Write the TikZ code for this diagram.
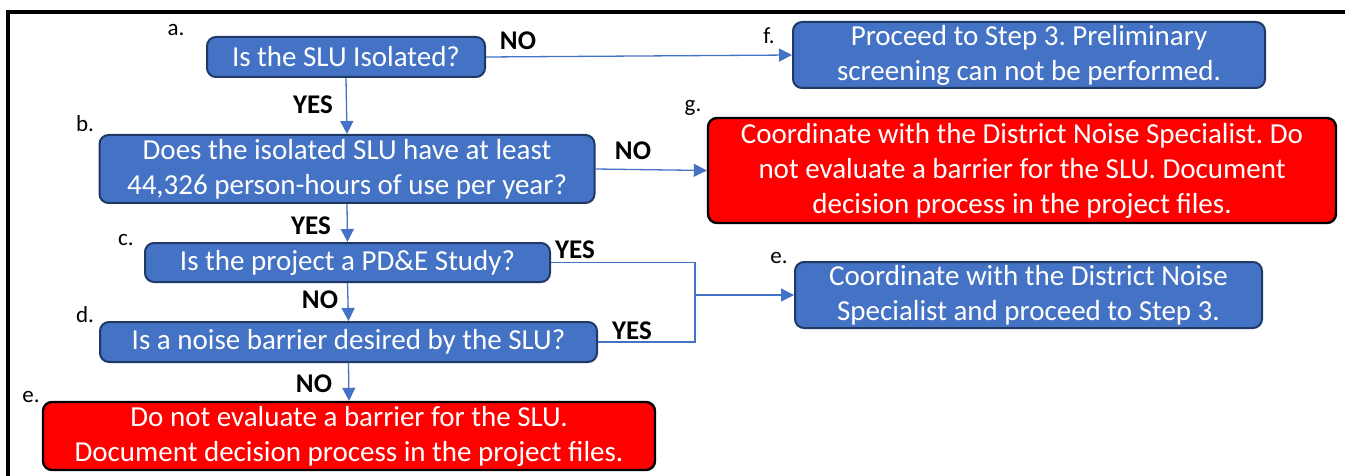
\documentclass[tikz,border=0pt]{standalone}
\usepackage{fontspec}
\setmainfont{Carlito}
\usetikzlibrary{arrows.meta}
\definecolor{boxblue}{HTML}{4472C4}
\definecolor{edgeblue}{HTML}{1F3864}
\definecolor{boxred}{HTML}{FF0000}
\frenchspacing

\begin{document}
\begin{tikzpicture}[x=1pt, y=-1pt,
	bluebox/.style={draw=edgeblue, line width=2pt, fill=boxblue, rounded corners=9pt,
		text=white, align=center, inner sep=0pt, font=\fontsize{29}{35}\selectfont},
	redbox/.style={bluebox, draw=black, line width=2.4pt, fill=boxred},
	tag/.style={font=\fontsize{23}{26}\selectfont},
	answer/.style={font=\fontsize{27}{30}\selectfont\bfseries},
	link/.style={draw=boxblue, line width=1.3pt},
	arrow/.style={link, -{Triangle[length=13pt, width=13pt]}}]
	\useasboundingbox (0,0) rectangle (1345,476);

	% Frame on the top and left side
	\draw[line width=4pt] (7.5,476) -- (7.5,12) -- (1345,12);

	% Question boxes on the left
	\node[bluebox, minimum width=278pt, minimum height=40pt] (a) at (346,57) {Is the SLU Isolated?};
	\node[bluebox, minimum width=495pt, minimum height=68pt] (b) at (347,169) {Does the isolated SLU have at least\\44,326 person-hours of use per year?};
	\node[bluebox, minimum width=405pt, minimum height=39pt] (c) at (347.5,262.5) {Is the project a PD\&E Study?};
	\node[bluebox, minimum width=497pt, minimum height=40pt] (d) at (348.5,342) {Is a noise barrier desired by the SLU?};
	\node[redbox, minimum width=612pt, minimum height=68pt] (e) at (349,436) {Do not evaluate a barrier for the SLU.\\Document decision process in the project files.};

	% Outcome boxes on the right
	\node[bluebox, minimum width=472pt, minimum height=66pt] (f) at (1029,55) {Proceed to Step 3. Preliminary\\screening can not be performed.};
	\node[redbox, minimum width=628pt, minimum height=105pt] (g) at (1022,170.5) {Coordinate with the District Noise Specialist. Do\\not evaluate a barrier for the SLU. Document\\decision process in the project files.};
	\node[bluebox, minimum width=467pt, minimum height=66pt] (e2) at (1028.5,295) {Coordinate with the District Noise\\Specialist and proceed to Step 3.};

	% Letters of the steps
	\node[tag] (ta) at (176,30) {a.};
	\node[tag] (tb) at (85,124) {b.};
	\node[tag] (tc) at (126,240) {c.};
	\node[tag] (td) at (85,315) {d.};
	\node[tag] (te) at (31,397) {e.};
	\node[tag] (tf) at (769,36) {f.};
	\node[tag] (tg) at (693,108) {g.};
	\node[tag] (te2) at (779,258) {e.};

	% Connectors
	\coordinate (J) at (695,295);
	\draw[arrow] (a.east) -- (f.west);
	\draw[arrow] (a.south) -- (b.north);
	\draw[arrow] (b.east) -- (g.west);
	\draw[arrow] (b.south) -- (c.north);
	\draw[arrow] (c.south) -- (d.north);
	\draw[arrow] (d.south) -- (e.north);
	\draw[link] (c.east) -| (J) |- (d.east);
	\draw[arrow] (J) -- (e2.west);

	% Answers on the connectors
	\node[answer] (nab) at (518,41) {NO};
	\node[answer] (yab) at (313,105) {YES};
	\node[answer] (nbg) at (633,151) {NO};
	\node[answer] (ybc) at (311,226) {YES};
	\node[answer] (yce) at (575,250) {YES};
	\node[answer] (ncd) at (320,300) {NO};
	\node[answer] (yde) at (632,331) {YES};
	\node[answer] (nde) at (314,384) {NO};
\end{tikzpicture}
\end{document}
